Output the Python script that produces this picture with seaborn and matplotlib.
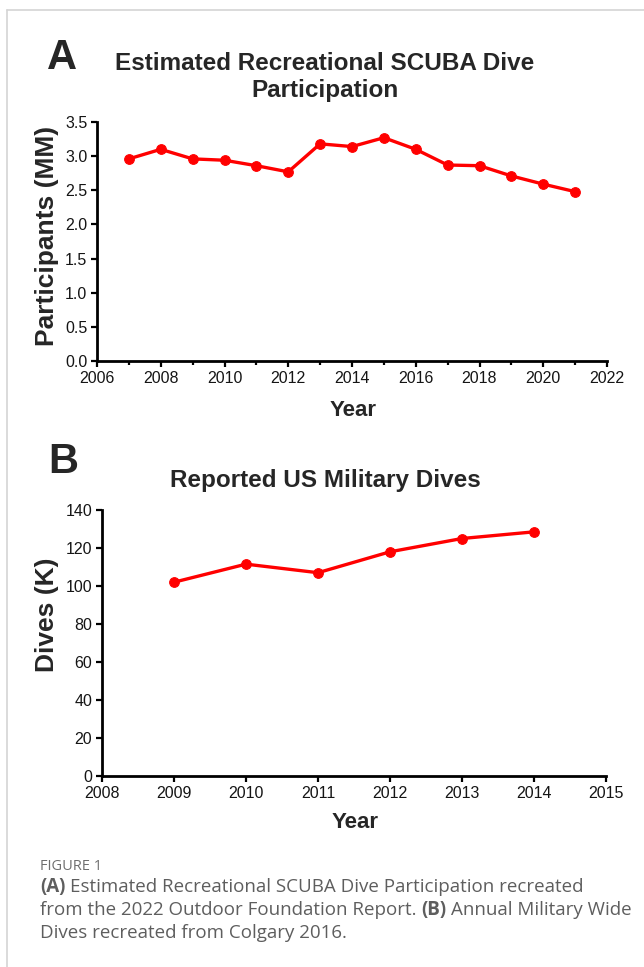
import matplotlib
matplotlib.use("Agg")
import matplotlib.pyplot as plt
from matplotlib.ticker import MultipleLocator
from matplotlib.lines import Line2D
import seaborn as sns

# panel A: recreational SCUBA participation (millions)
years_a = [2007, 2008, 2009, 2010, 2011, 2012, 2013, 2014, 2015, 2016, 2017, 2018, 2019, 2020, 2021]
participants = [2.96, 3.10, 2.96, 2.94, 2.86, 2.77, 3.18, 3.14, 3.27, 3.10, 2.87, 2.86, 2.71, 2.59, 2.48]

# panel B: reported US military dives (thousands)
years_b = [2009, 2010, 2011, 2012, 2013, 2014]
dives = [102, 111.5, 107, 118, 125, 128.5]

title_a = "Estimated Recreational SCUBA Dive\nParticipation"
title_b = "Reported US Military Dives"
caption_head = "FIGURE 1"
caption_lines = [
    [("(A)", True), ("Estimated Recreational SCUBA Dive Participation recreated", False)],
    [("from the 2022 Outdoor Foundation Report.", False), ("(B)", True), ("Annual Military Wide", False)],
    [("Dives recreated from Colgary 2016.", False)],
]

sns.set_style("ticks")
plt.rcParams['font.family'] = ['Liberation Sans', 'DejaVu Sans']

W, H = 644, 967
fig = plt.figure(figsize=(W / 100, H / 100), dpi=100)
fig.patch.set_facecolor('white')

# light card border on top and left
fig.add_artist(Line2D([7 / W, 1], [1 - 10 / H, 1 - 10 / H], color='#d4d4d4', lw=1.2, transform=fig.transFigure))
fig.add_artist(Line2D([7 / W, 7 / W], [0, 1 - 10 / H], color='#d4d4d4', lw=1.2, transform=fig.transFigure))

red = '#ff0000'


def style_axis(ax):
    sns.despine(ax=ax)
    for s in ['left', 'bottom']:
        ax.spines[s].set_linewidth(2.0)
        ax.spines[s].set_color('black')
    ax.tick_params(which='both', direction='out', color='black', width=1.6,
                   labelsize=11.5, labelcolor='#151515', pad=3)
    ax.tick_params(which='major', length=4)
    ax.tick_params(which='minor', length=3)
    ax.set_xlabel('')
    ax.set_ylabel('')
    ax.grid(False)


# ---- panel A ----
ax1 = fig.add_axes([97 / W, 1 - 361 / H, 510 / W, 239 / H])
sns.lineplot(x=years_a, y=participants, marker='o', color=red, linewidth=2.4,
             markersize=7, markeredgecolor=red, ax=ax1)
ax1.set_xlim(2006, 2022)
ax1.set_ylim(0, 3.5)
ax1.xaxis.set_major_locator(MultipleLocator(2))
ax1.xaxis.set_minor_locator(MultipleLocator(1))
ax1.yaxis.set_major_locator(MultipleLocator(0.5))
ax1.yaxis.set_major_formatter(plt.FormatStrFormatter('%.1f'))
style_axis(ax1)

# ---- panel B ----
ax2 = fig.add_axes([102 / W, 1 - 776 / H, 504 / W, 266 / H])
sns.lineplot(x=years_b, y=dives, marker='o', color=red, linewidth=2.4,
             markersize=7, markeredgecolor=red, ax=ax2)
ax2.set_xlim(2008, 2015)
ax2.set_ylim(0, 140)
ax2.xaxis.set_major_locator(MultipleLocator(1))
ax2.yaxis.set_major_locator(MultipleLocator(20))
style_axis(ax2)

# panel letters, titles, axis labels
fig.text(62 / W, 1 - 58 / H, "A", fontsize=30, fontweight='bold', ha='center', va='center')
fig.text(325 / W, 1 - 77 / H, title_a, fontsize=17.5, fontweight='bold', ha='center', va='center', linespacing=1.2)
fig.text(47 / W, 1 - 236 / H, "Participants (MM)", fontsize=19, fontweight='bold', rotation=90, ha='center', va='center')
fig.text(353 / W, 1 - 410 / H, "Year", fontsize=16, fontweight='bold', ha='center', va='center')

fig.text(63 / W, 1 - 462 / H, "B", fontsize=30, fontweight='bold', ha='center', va='center')
fig.text(325 / W, 1 - 480 / H, title_b, fontsize=17.5, fontweight='bold', ha='center', va='center')
fig.text(47 / W, 1 - 615 / H, "Dives (K)", fontsize=19, fontweight='bold', rotation=90, ha='center', va='center')
fig.text(355 / W, 1 - 822 / H, "Year", fontsize=16, fontweight='bold', ha='center', va='center')

# caption with mixed weights
cap_font = ['Open Sans', 'DejaVu Sans']
cap_color = '#5e5e5e'
cap_size = 13.5
fig.text(40 / W, 1 - 866 / H, caption_head, fontsize=10.5, color='#6e6e6e', family=cap_font, va='center')

renderer = fig.canvas.get_renderer()


def text_width(s, bold):
    t = fig.text(0, 0, s, fontsize=cap_size, family=cap_font, fontweight='bold' if bold else 'normal')
    w = t.get_window_extent(renderer).width
    t.remove()
    return w


space_w = text_width("a a", False) - text_width("aa", False)
for i, parts in enumerate(caption_lines):
    y = 1 - (887 + 23 * i) / H
    x_px = 40
    for j, (s, bold) in enumerate(parts):
        t = fig.text(x_px / W, y, s, fontsize=cap_size, family=cap_font, color=cap_color,
                     fontweight='bold' if bold else 'normal', va='center')
        x_px = t.get_window_extent(renderer).x1 + space_w

fig.savefig("out.png", dpi=100, facecolor='white')
